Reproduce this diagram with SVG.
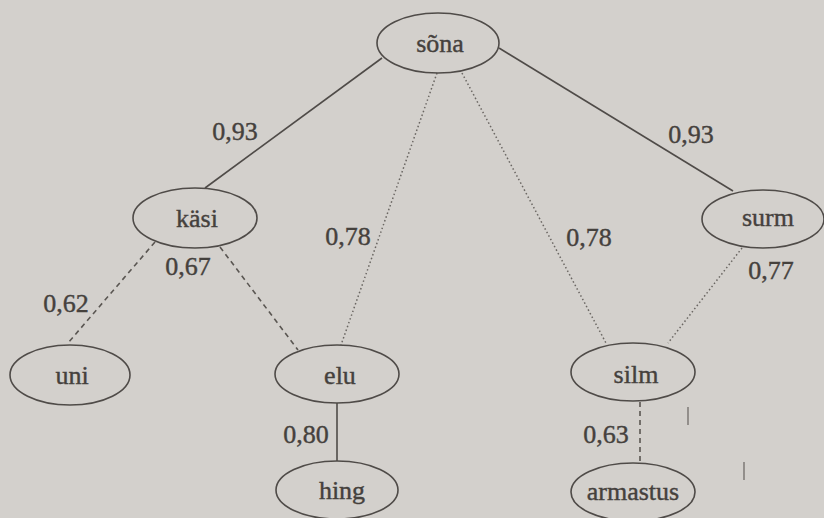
<svg xmlns="http://www.w3.org/2000/svg" width="824" height="518" viewBox="0 0 824 518" font-family="'Liberation Serif', 'DejaVu Serif', serif">
<style>
.node ellipse{fill:none;stroke:#4f4b48;stroke-width:1.6}
.node text{font-size:26px;fill:#45413d;text-anchor:middle;stroke:#45413d;stroke-width:0.4}
.lbl{font-size:26px;fill:#45413d;text-anchor:middle;stroke:#45413d;stroke-width:0.4}
.solid{stroke:#4f4b48;stroke-width:1.6;fill:none}
.dash{stroke:#5a5652;stroke-width:1.6;fill:none;stroke-dasharray:5 4}
.dot{stroke:#6a6662;stroke-width:1.5;fill:none;stroke-dasharray:1.5 2.5}
</style>
<rect width="824" height="518" fill="#d3d0cc"/>
<g id="connectors">
<line class="solid" x1="382" y1="58" x2="205" y2="188"/>
<line class="solid" x1="499" y1="48" x2="733" y2="191"/>
<line class="dot" x1="437" y1="73" x2="341" y2="345"/>
<line class="dot" x1="462" y1="73" x2="606" y2="343"/>
<line class="dot" x1="742" y1="248" x2="668" y2="343"/>
<line class="dash" x1="155" y1="242" x2="68" y2="343"/>
<line class="dash" x1="220" y1="247" x2="298" y2="350"/>
<line class="solid" x1="337" y1="403" x2="337" y2="461"/>
<line class="dash" x1="640" y1="402" x2="640" y2="463"/>
</g>
<g id="labels" font-family="Liberation Serif, serif">
<text class="lbl" x="235" y="140">0,93</text>
<text class="lbl" x="691" y="143">0,93</text>
<text class="lbl" x="348" y="245">0,78</text>
<text class="lbl" x="188" y="275">0,67</text>
<text class="lbl" x="66" y="312">0,62</text>
<text class="lbl" x="589" y="246">0,78</text>
<text class="lbl" x="771" y="279">0,77</text>
<text class="lbl" x="306" y="443">0,80</text>
<text class="lbl" x="606" y="443">0,63</text>
</g>
<g id="sona" class="node" font-family="Liberation Serif, serif"><ellipse cx="438" cy="43" rx="61" ry="30"/><text x="440" y="52">sõna</text></g>
<g id="kasi" class="node" font-family="Liberation Serif, serif"><ellipse cx="195" cy="218" rx="62" ry="30"/><text x="197" y="227">käsi</text></g>
<g id="surm" class="node" font-family="Liberation Serif, serif"><ellipse cx="763" cy="219" rx="61" ry="29"/><text x="768" y="226">surm</text></g>
<g id="uni" class="node" font-family="Liberation Serif, serif"><ellipse cx="70" cy="375" rx="60" ry="30"/><text x="72" y="384">uni</text></g>
<g id="elu" class="node" font-family="Liberation Serif, serif"><ellipse cx="337" cy="374" rx="62" ry="29"/><text x="340" y="384">elu</text></g>
<g id="silm" class="node" font-family="Liberation Serif, serif"><ellipse cx="633" cy="372" rx="62" ry="29"/><text x="636" y="383">silm</text></g>
<g id="hing" class="node" font-family="Liberation Serif, serif"><ellipse cx="337" cy="490" rx="61" ry="29"/><text x="342" y="499">hing</text></g>
<g id="armastus" class="node" font-family="Liberation Serif, serif"><ellipse cx="633" cy="492" rx="62" ry="29"/><text x="633" y="500">armastus</text></g>
<g id="marks" stroke="#77736f" stroke-width="1.4">
<line x1="688" y1="407" x2="688" y2="425"/>
<line x1="744" y1="462" x2="744" y2="480"/>
</g>
</svg>
